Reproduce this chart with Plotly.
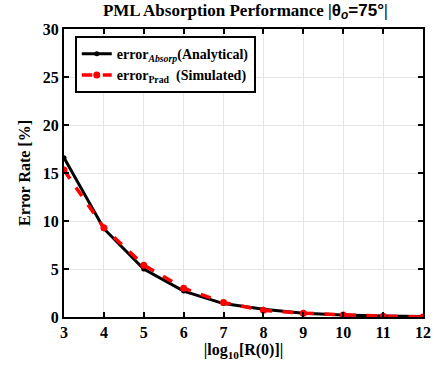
import plotly.graph_objects as go

x_vals = [3, 4, 5, 6, 7, 8, 9, 10, 11, 12]
err_absorp = [16.6, 9.2, 5.0, 2.7, 1.4, 0.8, 0.4, 0.2, 0.1, 0.05]
err_prad = [15.3, 9.3, 5.4, 3.0, 1.5, 0.7, 0.4, 0.2, 0.08, 0.0]
y_ticks = [0, 5, 10, 15, 20, 25, 30]

font_fam = "Liberation Serif"

fig = go.Figure()
fig.add_trace(go.Scatter(
    x=x_vals, y=err_absorp, mode="lines+markers",
    name="error<sub><i>Absorp</i></sub>(Analytical)",
    line=dict(color="black", width=3),
    marker=dict(color="black", size=5),
))
fig.add_trace(go.Scatter(
    x=x_vals, y=err_prad, mode="lines+markers",
    name="error<sub>Prad</sub>  (Simulated)",
    line=dict(color="#ff0000", width=3.5, dash="dash"),
    marker=dict(color="#ff0000", size=7),
))

axis_common = dict(
    showline=True, linecolor="black", linewidth=2, mirror="ticks",
    ticks="inside", ticklen=5, tickwidth=2, tickcolor="black",
    showgrid=True, gridcolor="#e6e6e6", gridwidth=1, zeroline=False,
    tickfont=dict(family=font_fam, size=16, color="black"),
)

title_text = ("<b>PML Absorption Performance |"
              "<span style='font-family:Liberation Sans'>θ<sub><i>o</i></sub>=75°</span>|</b>")

fig.update_layout(
    width=442, height=366,
    margin=dict(l=64, r=11, t=29, b=43),
    paper_bgcolor="white", plot_bgcolor="white",
    title=dict(
        text=title_text,
        x=0.555, xanchor="center", y=0.99, yanchor="top",
        font=dict(family=font_fam, size=17, color="black"),
    ),
    xaxis=dict(range=[3, 12], tickvals=x_vals,
               ticktext=[f"<b>{v}</b>" for v in x_vals],
               title=dict(text="<b>|log<sub>10</sub>[R(0)]|</b>", standoff=3,
                          font=dict(family=font_fam, size=16, color="black")),
               **axis_common),
    yaxis=dict(range=[0, 30], tickvals=y_ticks,
               ticktext=[f"<b>{v}</b>" for v in y_ticks],
               title=dict(text="<b>Error Rate [%]</b>", standoff=8,
                          font=dict(family=font_fam, size=16, color="black")),
               **axis_common),
    legend=dict(
        x=0.03, y=0.975, xanchor="left", yanchor="top",
        bgcolor="white", bordercolor="black", borderwidth=2,
        font=dict(family=font_fam, size=14, color="black", weight="bold"),
        tracegroupgap=0, itemwidth=30,
    ),
    showlegend=True,
)

fig.write_html("out.html")
